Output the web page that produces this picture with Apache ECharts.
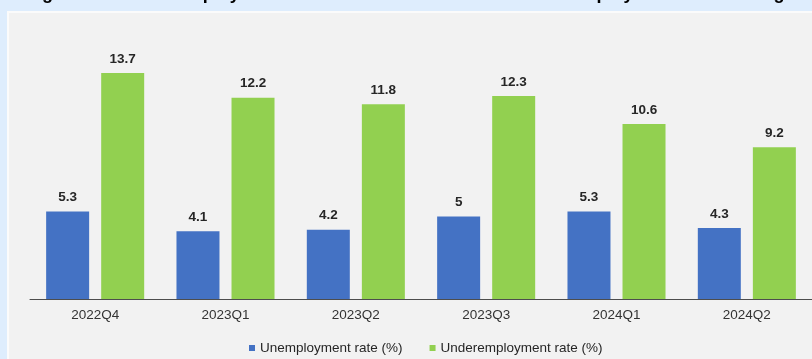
<!DOCTYPE html>
<html>
<head>
<meta charset="utf-8">
<script src="https://cdn.jsdelivr.net/npm/echarts@6/dist/echarts.min.js"></script>
<style>
html,body{margin:0;padding:0;background:#deedfd;}
#chart{width:812px;height:359px;}
</style>
</head>
<body>
<div id="chart"></div>
<script>
const categories = ['2022Q4', '2023Q1', '2023Q2', '2023Q3', '2024Q1', '2024Q2'];
const unemploymentRate = [5.3, 4.1, 4.2, 5, 5.3, 4.3];
const underemploymentRate = [13.7, 12.2, 11.8, 12.3, 10.6, 9.2];
const seriesNames = ['Unemployment rate (%)', 'Underemployment rate (%)'];
const titleText = 'Figure 1. Total Unemployment Rate and the Time-Related Underemployment Rates \u2013 Region';

const chart = echarts.init(document.getElementById('chart'), null, {renderer: 'canvas'});
const font = '"Liberation Sans", Arial, sans-serif';
const labelStyle = {
  show: true, position: 'top', distance: 7,
  fontFamily: font, fontSize: 13.5, fontWeight: 'bold', color: '#262626'
};
chart.setOption({
  backgroundColor: '#deedfd',
  animation: false,
  title: {
    text: titleText, left: 26, top: -15, padding: 0,
    textStyle: {fontFamily: font, fontSize: 18, fontWeight: 'bold', color: '#000'}
  },
  graphic: [{
    type: 'rect', z: -10, silent: true,
    shape: {x: 8, y: 12, width: 830, height: 380},
    style: {fill: '#f2f2f2', stroke: '#fbfbfb', lineWidth: 2}
  }],
  legend: {
    data: seriesNames, left: 249, top: 341, padding: 0,
    icon: 'rect', itemWidth: 6, itemHeight: 6, itemGap: 27,
    textStyle: {fontFamily: font, fontSize: 13.5, color: '#262626'}
  },
  grid: {left: 30, top: 35, width: 786, bottom: 60, containLabel: false},
  xAxis: {
    type: 'category', data: categories,
    axisLine: {lineStyle: {color: '#4d4d4d', width: 1}},
    axisTick: {show: false},
    axisLabel: {margin: 9, fontFamily: font, fontSize: 13.5, color: '#333'}
  },
  yAxis: {type: 'value', min: 0, max: 16, show: false, splitLine: {show: false}},
  series: [
    {name: seriesNames[0], type: 'bar', data: unemploymentRate, barWidth: 43, barGap: '28%',
     itemStyle: {color: '#4472c4'}, label: labelStyle},
    {name: seriesNames[1], type: 'bar', data: underemploymentRate, barWidth: 43,
     itemStyle: {color: '#92d050'}, label: labelStyle}
  ]
});
</script>
</body>
</html>
